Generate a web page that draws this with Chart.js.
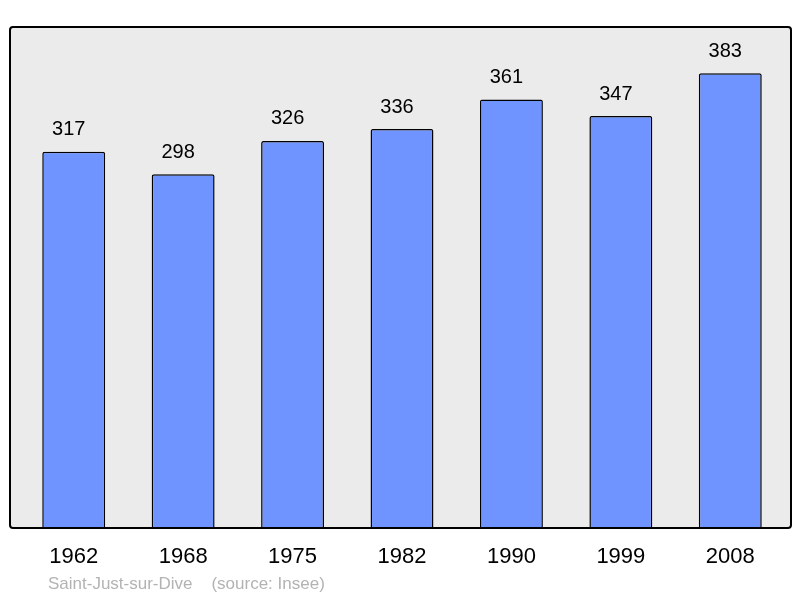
<!DOCTYPE html>
<html>
<head>
<meta charset="utf-8">
<script src="https://cdn.jsdelivr.net/npm/chart.js@4/dist/chart.umd.min.js"></script>
<style>
  html, body { margin: 0; padding: 0; background: #fff; }
  #wrap { width: 800px; height: 598px; position: relative; }
</style>
</head>
<body>
<div id="wrap"><canvas id="popChart"></canvas></div>
<script>
const years = ["1962", "1968", "1975", "1982", "1990", "1999", "2008"];
const population = [317, 298, 326, 336, 361, 347, 383];
const footerText = "Saint-Just-sur-Dive    (source: Insee)";

const framePlugin = {
    id: "frame",
    beforeDatasetsDraw(chart) {
        const a = chart.chartArea;
        const ctx = chart.ctx;
        ctx.save();
        ctx.beginPath();
        ctx.roundRect(a.left - 9, a.top, a.right - a.left + 15, a.bottom - a.top, 3);
        ctx.fillStyle = "#ebebeb";
        ctx.fill();
        ctx.restore();
    },
    afterDatasetsDraw(chart) {
        const a = chart.chartArea;
        const ctx = chart.ctx;
        ctx.save();
        // value labels, sitting a bit left of the bar centre like the original
        ctx.font = "20px 'Liberation Sans', Arial, sans-serif";
        ctx.fillStyle = "#000";
        ctx.textAlign = "center";
        ctx.textBaseline = "middle";
        chart.getDatasetMeta(0).data.forEach(function (bar, i) {
            ctx.fillText(String(population[i]), bar.x - 5, bar.y - 22);
        });
        // frame border
        ctx.beginPath();
        ctx.roundRect(a.left - 9, a.top, a.right - a.left + 15, a.bottom - a.top, 3);
        ctx.lineWidth = 2;
        ctx.strokeStyle = "#000";
        ctx.stroke();
        // footer
        ctx.font = "17px 'Liberation Sans', Arial, sans-serif";
        ctx.fillStyle = "#b3b3b3";
        ctx.textAlign = "left";
        ctx.fillText(footerText, 48, 584);
        ctx.restore();
    }
};

new Chart(document.getElementById("popChart"), {
    type: "bar",
    data: {
        labels: years,
        datasets: [{
            data: population,
            backgroundColor: "#7094ff",
            borderColor: "#000",
            borderWidth: 1.5,
            borderRadius: 2,
            borderSkipped: "bottom",
            barPercentage: 0.575,
            categoryPercentage: 1
        }]
    },
    options: {
        responsive: true,
        maintainAspectRatio: false,
        animation: false,
        layout: { padding: { left: 19, right: 15, top: 27, bottom: 0 } },
        plugins: {
            legend: { display: false },
            tooltip: { enabled: false }
        },
        scales: {
            x: {
                grid: { display: false, drawTicks: false },
                border: { display: false },
                ticks: {
                    color: "#000",
                    padding: 16,
                    font: { family: "'Liberation Sans', Arial, sans-serif", size: 22 }
                },
                afterFit(scale) { scale.height = 70; }
            },
            y: {
                display: false,
                min: 0,
                max: 422
            }
        }
    },
    plugins: [framePlugin]
});
</script>
</body>
</html>
